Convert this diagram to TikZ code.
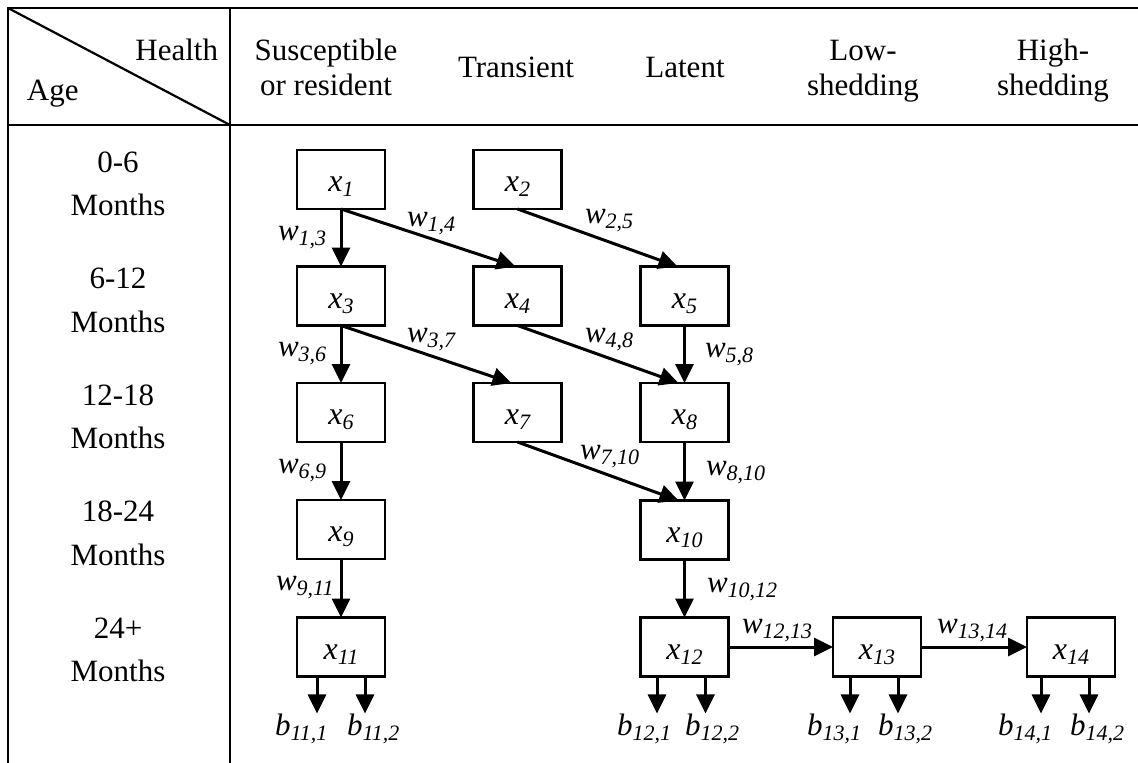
\documentclass[tikz,border=0pt]{standalone}
\usepackage{fontspec}
\setmainfont{Liberation Serif}
\usetikzlibrary{arrows.meta}

% italic variable with italic subscript
\newcommand{\vr}[2]{\textit{#1}\raisebox{-5pt}{\fontsize{22}{22}\selectfont\itshape #2}}

\begin{document}
\begin{tikzpicture}[x=1pt,y=-1pt,
  every node/.style={inner sep=0pt, outer sep=0pt},
  txt/.style={font=\fontsize{31}{35}\selectfont},
  rowtxt/.style={font=\fontsize{31}{43.5}\selectfont, anchor=base},
  state/.style={draw, line width=2.3pt, minimum width=88pt, minimum height=59pt,
    text height=24pt, text depth=0pt, font=\fontsize{32}{35}\selectfont},
  flow/.style={line width=3pt, -{Triangle[length=19pt,width=18pt]}},
  rule/.style={line width=2.2pt},
  wlab/.style={anchor=base west, font=\fontsize{31}{35}\selectfont},
]
\useasboundingbox (0,0) rectangle (1138,763);

% table frame
\draw[rule] (8,763) -- (8,8) -- (1138,8);
\draw[rule] (8,125) -- (1138,125);
\draw[rule] (230,8) -- (230,763);
\draw[rule] (8,8) -- (230,125);

% header
\node[txt, anchor=base east] (health) at (218,60) {Health};
\node[txt, anchor=base west] (age) at (27,100) {Age};
\node[txt, anchor=base] (hsus) at (326,60) {\begin{tabular}[t]{@{}c@{}}Susceptible\\or resident\end{tabular}};
\node[txt, anchor=base] (htra) at (516,77) {Transient};
\node[txt, anchor=base] (hlat) at (685,77) {Latent};
\node[txt, anchor=base] (hlow) at (863,60) {\begin{tabular}[t]{@{}c@{}}Low-\\shedding\end{tabular}};
\node[txt, anchor=base] (hhigh) at (1053,60) {\begin{tabular}[t]{@{}c@{}}High-\\shedding\end{tabular}};

% age rows
\node[rowtxt] (a1) at (118,172) {\begin{tabular}[t]{@{}c@{}}0-6\\Months\end{tabular}};
\node[rowtxt] (a2) at (118,288.5) {\begin{tabular}[t]{@{}c@{}}6-12\\Months\end{tabular}};
\node[rowtxt] (a3) at (118,405) {\begin{tabular}[t]{@{}c@{}}12-18\\Months\end{tabular}};
\node[rowtxt] (a4) at (118,521.5) {\begin{tabular}[t]{@{}c@{}}18-24\\Months\end{tabular}};
\node[rowtxt] (a5) at (118,638) {\begin{tabular}[t]{@{}c@{}}24+\\Months\end{tabular}};

% states
\node[state] (x1) at (341,179.5) {\vr{x}{1}};
\node[state] (x2) at (517.5,179.5) {\vr{x}{2}};
\node[state] (x3) at (341,296) {\vr{x}{3}};
\node[state] (x4) at (517.5,296) {\vr{x}{4}};
\node[state] (x5) at (684.5,296) {\vr{x}{5}};
\node[state] (x6) at (341,412.5) {\vr{x}{6}};
\node[state] (x7) at (517.5,412.5) {\vr{x}{7}};
\node[state] (x8) at (684.5,412.5) {\vr{x}{8}};
\node[state] (x9) at (341,529.5) {\vr{x}{9}};
\node[state] (x10) at (684.5,530) {\vr{x}{10}};
\node[state] (x11) at (341,647) {\vr{x}{11}};
\node[state] (x12) at (684.5,647) {\vr{x}{12}};
\node[state] (x13) at (877,647) {\vr{x}{13}};
\node[state] (x14) at (1071,647) {\vr{x}{14}};

% transitions
\draw[flow] (x1) -- (x3);
\draw[flow] (x1.south) -- ([xshift=-2pt]x4.north);
\draw[flow] (x2.south) -- ([xshift=-7pt]x5.north);
\draw[flow] (x3) -- (x6);
\draw[flow] (x3.south) -- ([xshift=-6pt]x7.north);
\draw[flow] (x4.south) -- ([xshift=-6pt]x8.north);
\draw[flow] (x5) -- (x8);
\draw[flow] (x6) -- (x9);
\draw[flow] (x7.south) -- ([xshift=-6pt]x10.north);
\draw[flow] (x8) -- (x10);
\draw[flow] (x9) -- (x11);
\draw[flow] (x10) -- (x12);
\draw[flow] (x12) -- (x13);
\draw[flow] (x13) -- (x14);

% transition labels
\node[wlab] (w13) at (278,240) {\vr{w}{1,3}};
\node[wlab] (w14) at (407,226) {\vr{w}{1,4}};
\node[wlab] (w25) at (585,223) {\vr{w}{2,5}};
\node[wlab] (w36) at (278,356) {\vr{w}{3,6}};
\node[wlab] (w37) at (407,342) {\vr{w}{3,7}};
\node[wlab] (w48) at (585,342) {\vr{w}{4,8}};
\node[wlab] (w58) at (705,357) {\vr{w}{5,8}};
\node[wlab] (w69) at (278,473) {\vr{w}{6,9}};
\node[wlab] (w710) at (580,459) {\vr{w}{7,10}};
\node[wlab] (w810) at (706,475) {\vr{w}{8,10}};
\node[wlab] (w911) at (276,590) {\vr{w}{9,11}};
\node[wlab] (w1012) at (707,592) {\vr{w}{10,12}};
\node[wlab] (w1213) at (742,633) {\vr{w}{12,13}};
\node[wlab] (w1314) at (937,633) {\vr{w}{13,14}};

% outputs
\node[wlab] (b111) at (275,735) {\vr{b}{11,1}};
\node[wlab] (b112) at (347,735) {\vr{b}{11,2}};
\node[wlab] (b121) at (617,735) {\vr{b}{12,1}};
\node[wlab] (b122) at (685,735) {\vr{b}{12,2}};
\node[wlab] (b131) at (807,735) {\vr{b}{13,1}};
\node[wlab] (b132) at (878,735) {\vr{b}{13,2}};
\node[wlab] (b141) at (998,735) {\vr{b}{14,1}};
\node[wlab] (b142) at (1070,735) {\vr{b}{14,2}};

\draw[flow] ([xshift=-24pt]x11.south) -- ([xshift=-24pt]x11.south |- b111.north);
\draw[flow] ([xshift=24pt]x11.south) -- ([xshift=24pt]x11.south |- b112.north);
\draw[flow] ([xshift=-27.5pt]x12.south) -- ([xshift=-27.5pt]x12.south |- b121.north);
\draw[flow] ([xshift=21pt]x12.south) -- ([xshift=21pt]x12.south |- b122.north);
\draw[flow] ([xshift=-27pt]x13.south) -- ([xshift=-27pt]x13.south |- b131.north);
\draw[flow] ([xshift=21pt]x13.south) -- ([xshift=21pt]x13.south |- b132.north);
\draw[flow] ([xshift=-30pt]x14.south) -- ([xshift=-30pt]x14.south |- b141.north);
\draw[flow] ([xshift=18pt]x14.south) -- ([xshift=18pt]x14.south |- b142.north);
\end{tikzpicture}
\end{document}
